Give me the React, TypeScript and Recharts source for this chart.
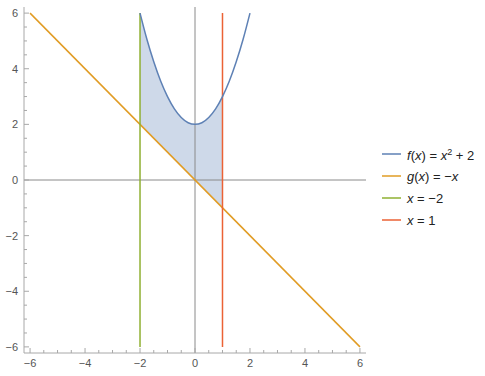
import { Area, ComposedChart, Legend, Line, ReferenceLine, XAxis, YAxis } from "recharts";

// tick positions (major every 2, minor every 0.5)
const tickValues = [-6, -5.5, -5, -4.5, -4, -3.5, -3, -2.5, -2, -1.5, -1, -0.5, 0, 0.5, 1, 1.5, 2, 2.5, 3, 3.5, 4, 4.5, 5, 5.5, 6];
const tickLabels = ["−6", "−4", "−2", "0", "2", "4", "6"];
const labelValues = [-6, -4, -2, 0, 2, 4, 6];

// f(x) = x^2 + 2
const fCurve = [
  { x: -2, y: 6 }, { x: -1.75, y: 5.06 }, { x: -1.5, y: 4.25 }, { x: -1.25, y: 3.56 },
  { x: -1, y: 3 }, { x: -0.75, y: 2.56 }, { x: -0.5, y: 2.25 }, { x: -0.25, y: 2.06 },
  { x: 0, y: 2 }, { x: 0.25, y: 2.06 }, { x: 0.5, y: 2.25 }, { x: 0.75, y: 2.56 },
  { x: 1, y: 3 }, { x: 1.25, y: 3.56 }, { x: 1.5, y: 4.25 }, { x: 1.75, y: 5.06 }, { x: 2, y: 6 },
];
// g(x) = -x
const gLine = [{ x: -6, y: 6 }, { x: 6, y: -6 }];
const leftBound = [{ x: -2, y: -6 }, { x: -2, y: 6 }];
const rightBound = [{ x: 1, y: -6 }, { x: 1, y: 6 }];
// shaded region between g (low) and f (high), x from -2 to 1
const region = [
  { x: -2, band: [2, 6] }, { x: -1.75, band: [1.75, 5.06] }, { x: -1.5, band: [1.5, 4.25] },
  { x: -1.25, band: [1.25, 3.56] }, { x: -1, band: [1, 3] }, { x: -0.75, band: [0.75, 2.56] },
  { x: -0.5, band: [0.5, 2.25] }, { x: -0.25, band: [0.25, 2.06] }, { x: 0, band: [0, 2] },
  { x: 0.25, band: [-0.25, 2.06] }, { x: 0.5, band: [-0.5, 2.25] }, { x: 0.75, band: [-0.75, 2.56] },
  { x: 1, band: [-1, 3] },
];

const BLUE = "#5e81b5";
const ORANGE = "#e19c24";
const GREEN = "#8fb032";
const RED = "#eb6235";
const FRAME = "#a8a8a8";
const LABEL = "#555";
const FONT = "'Liberation Sans', Arial, sans-serif";

const domain: [number, number] = [-6.22, 6.22];

function labelFor(v: number) {
  const i = labelValues.indexOf(v);
  return i >= 0 ? tickLabels[i] : null;
}

function makeTick(side: "bottom" | "top" | "left" | "right") {
  return function Tick(props: any) {
    const { x, y, payload } = props;
    const label = labelFor(payload.value);
    const len = label !== null ? 5 : 3;
    let line;
    if (side === "bottom") line = <line x1={x} x2={x} y1={y} y2={y - len} stroke={FRAME} />;
    else if (side === "top") line = <line x1={x} x2={x} y1={y} y2={y + len} stroke={FRAME} />;
    else if (side === "left") line = <line x1={x} x2={x + len} y1={y} y2={y} stroke={FRAME} />;
    else line = <line x1={x} x2={x - len} y1={y} y2={y} stroke={FRAME} />;
    return (
      <g>
        {line}
        {label !== null && side === "bottom" && (
          <text x={x} y={y + 14} textAnchor="middle" fontSize={11} fill={LABEL} fontFamily={FONT}>{label}</text>
        )}
        {label !== null && side === "left" && (
          <text x={x - 6} y={y + 4} textAnchor="end" fontSize={11} fill={LABEL} fontFamily={FONT}>{label}</text>
        )}
      </g>
    );
  };
}

const legendItems = [
  { color: BLUE, label: <><i>f</i>(<i>x</i>) = <i>x</i><sup style={{ fontSize: 9 }}>2</sup> + 2</> },
  { color: ORANGE, label: <><i>g</i>(<i>x</i>) = −<i>x</i></> },
  { color: GREEN, label: <><i>x</i> = −2</> },
  { color: RED, label: <><i>x</i> = 1</> },
];

function PlotLegend() {
  return (
    <div style={{ fontFamily: FONT, fontSize: 13, color: "#222" }}>
      {legendItems.map((it, i) => (
        <div key={i} style={{ height: 22, display: "flex", alignItems: "center" }}>
          <svg width={19} height={4} style={{ marginRight: 6 }}>
            <line x1={0} x2={19} y1={2} y2={2} stroke={it.color} strokeWidth={1.5} />
          </svg>
          <span style={{ lineHeight: "13px" }}>{it.label}</span>
        </div>
      ))}
    </div>
  );
}

export default function App() {
  return (
    <div style={{ position: "absolute", left: 0, top: 0, width: 485, height: 376, background: "#fff" }}>
      <ComposedChart width={485} height={376} margin={{ top: 7, right: 119, left: 0, bottom: 0 }}>
        <XAxis xAxisId={0} dataKey="x" type="number" domain={domain} ticks={tickValues} allowDataOverflow
               orientation="bottom" height={23} tickSize={0} tickMargin={0} tickLine={false}
               axisLine={{ stroke: FRAME }} tick={makeTick("bottom")} interval={0} />
        <XAxis xAxisId="top" dataKey="x" type="number" domain={domain} ticks={tickValues} allowDataOverflow
               orientation="top" height={0} tickSize={0} tickMargin={0} tickLine={false}
               axisLine={{ stroke: FRAME }} tick={makeTick("top")} interval={0} />
        <YAxis yAxisId={0} type="number" domain={domain} ticks={tickValues} allowDataOverflow
               orientation="left" width={24} tickSize={0} tickMargin={0} tickLine={false}
               axisLine={{ stroke: FRAME }} tick={makeTick("left")} interval={0} />
        <YAxis yAxisId="right" type="number" domain={domain} ticks={tickValues} allowDataOverflow
               orientation="right" width={0} tickSize={0} tickMargin={0} tickLine={false}
               axisLine={{ stroke: FRAME }} tick={makeTick("right")} interval={0} />
        <ReferenceLine x={0} stroke="#8a8a8a" strokeWidth={1} />
        <ReferenceLine y={0} stroke="#8a8a8a" strokeWidth={1} />
        <Area data={region} dataKey="band" type="monotone" fill={BLUE} fillOpacity={0.3} stroke="none"
              isAnimationActive={false} legendType="none" />
        <Line data={gLine} dataKey="y" name="g" stroke={ORANGE} strokeWidth={1.5} dot={false} isAnimationActive={false} />
        <Line data={leftBound} dataKey="y" name="x=-2" stroke={GREEN} strokeWidth={1.5} dot={false} isAnimationActive={false} />
        <Line data={rightBound} dataKey="y" name="x=1" stroke={RED} strokeWidth={1.5} dot={false} isAnimationActive={false} />
        <Line data={fCurve} dataKey="y" name="f" type="monotone" stroke={BLUE} strokeWidth={1.5} dot={false} isAnimationActive={false} />
        <Legend layout="vertical" align="center" verticalAlign="middle" content={<PlotLegend />}
                wrapperStyle={{ left: 382, top: 143, width: 103 }} />
      </ComposedChart>
    </div>
  );
}
